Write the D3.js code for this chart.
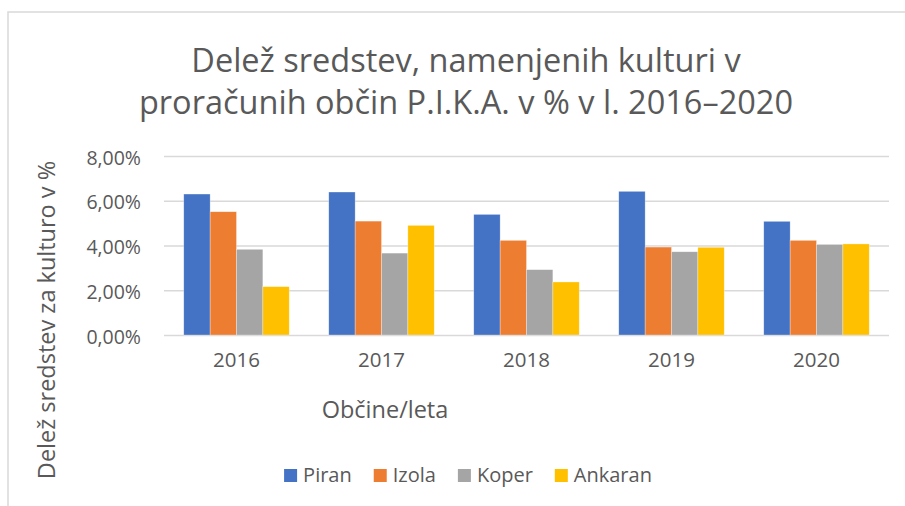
<!DOCTYPE html>
<html>
<head>
<meta charset="utf-8">
<script src="https://cdn.jsdelivr.net/npm/d3@7"></script>
<style>
  html, body { margin: 0; padding: 0; background: #fff; }
  svg { display: block; }
  text { font-family: "Open Sans", "Noto Sans", sans-serif; fill: #595959; }
</style>
</head>
<body>
<svg id="chart" width="905" height="506"></svg>
<script>
const years = ["2016", "2017", "2018", "2019", "2020"];
const seriesNames = ["Piran", "Izola", "Koper", "Ankaran"];
const piran   = [0.0630, 0.0639, 0.0539, 0.0642, 0.0508];
const izola   = [0.0551, 0.0509, 0.0423, 0.0393, 0.0423];
const koper   = [0.0383, 0.0366, 0.0292, 0.0372, 0.0405];
const ankaran = [0.0216, 0.0490, 0.0237, 0.0392, 0.0407];
const yTicks  = [0, 0.02, 0.04, 0.06, 0.08];
const colors  = ["#4472C4", "#ED7D31", "#A5A5A5", "#FFC000"];
const titleLines = ["Delež sredstev, namenjenih kulturi v", "proračunih občin P.I.K.A. v % v l. 2016–2020"];
const yTitle = "Delež sredstev za kulturo v %";
const xTitle = "Občine/leta";

const seriesValues = [piran, izola, koper, ankaran];
const data = years.map((y, i) => ({ year: y, values: seriesNames.map((s, j) => ({ name: s, value: seriesValues[j][i] })) }));

const svg = d3.select("#chart");

// outer chart border (clipped on right/bottom as in reference)
svg.append("rect").attr("x", 8).attr("y", 12).attr("width", 920).attr("height", 520)
  .attr("fill", "none").attr("stroke", "#d9d9d9").attr("stroke-width", 1.5);

const plot = { left: 164, right: 889, top: 156, bottom: 335 };

const y = d3.scaleLinear().domain([0, 0.08]).range([plot.bottom, plot.top]);
const x0 = d3.scaleBand().domain(years).range([plot.left, plot.right]).padding(0);
const w = x0.bandwidth() / 5.5;
const x1 = d3.scaleBand().domain(seriesNames).range([0.75 * w, 4.75 * w]).padding(0);
const color = d3.scaleOrdinal().domain(seriesNames).range(colors);

const fmt = v => d3.format(".2f")(v * 100).replace(".", ",") + "%";

// gridlines
const yAxis = d3.axisLeft(y).tickValues(yTicks).tickSize(-(plot.right - plot.left)).tickFormat(fmt).tickPadding(23);
const gy = svg.append("g").attr("transform", `translate(${plot.left},0)`).call(yAxis);
gy.select(".domain").remove();
gy.selectAll(".tick line").attr("stroke", "#d9d9d9").attr("stroke-width", 1.5);
gy.selectAll(".tick text").attr("font-size", 19.5).attr("fill", "#595959").attr("dy", "0.42em")
  .style("font-family", '"Open Sans", sans-serif');

// bars
const groups = svg.append("g").selectAll("g").data(data).join("g")
  .attr("transform", d => `translate(${x0(d.year)},0)`);
groups.selectAll("rect").data(d => d.values).join("rect")
  .attr("x", d => x1(d.name))
  .attr("width", x1.bandwidth())
  .attr("y", d => y(d.value))
  .attr("height", d => y(0) - y(d.value))
  .attr("fill", d => color(d.name))
  .attr("stroke", "#ffffff").attr("stroke-opacity", 0.5).attr("stroke-width", 0.6);

// x axis labels
const xAxis = d3.axisBottom(x0).tickSize(0).tickPadding(17);
const gx = svg.append("g").attr("transform", `translate(0,${plot.bottom})`).call(xAxis);
gx.select(".domain").remove();
gx.selectAll(".tick text").attr("font-size", 20.5).attr("fill", "#595959")
  .style("font-family", '"Open Sans", sans-serif');

// title
svg.append("text").attr("text-anchor", "middle").attr("font-size", 32.5)
  .selectAll("tspan").data(titleLines).join("tspan")
  .attr("x", 466).attr("y", (d, i) => 72 + i * 42).text(d => d);

// axis titles
svg.append("text").attr("text-anchor", "middle").attr("font-size", 23.5)
  .attr("transform", "translate(55,320) rotate(-90)").text(yTitle);
svg.append("text").attr("text-anchor", "middle").attr("font-size", 23.5)
  .attr("x", 385).attr("y", 418).text(xTitle);

// legend
const legend = svg.append("g");
const items = legend.selectAll("g").data(seriesNames).join("g");
items.append("rect").attr("width", 13).attr("height", 13).attr("y", -13).attr("fill", d => color(d));
items.append("text").attr("x", 19).attr("font-size", 20).text(d => d);
let cx = 0;
items.each(function() {
  const g = d3.select(this);
  const tw = g.select("text").node().getComputedTextLength();
  g.attr("transform", `translate(${cx},0)`);
  cx += 19 + tw + 22;
});
const totalW = cx - 22;
legend.attr("transform", `translate(${468 - totalW / 2},482)`);
</script>
</body>
</html>
